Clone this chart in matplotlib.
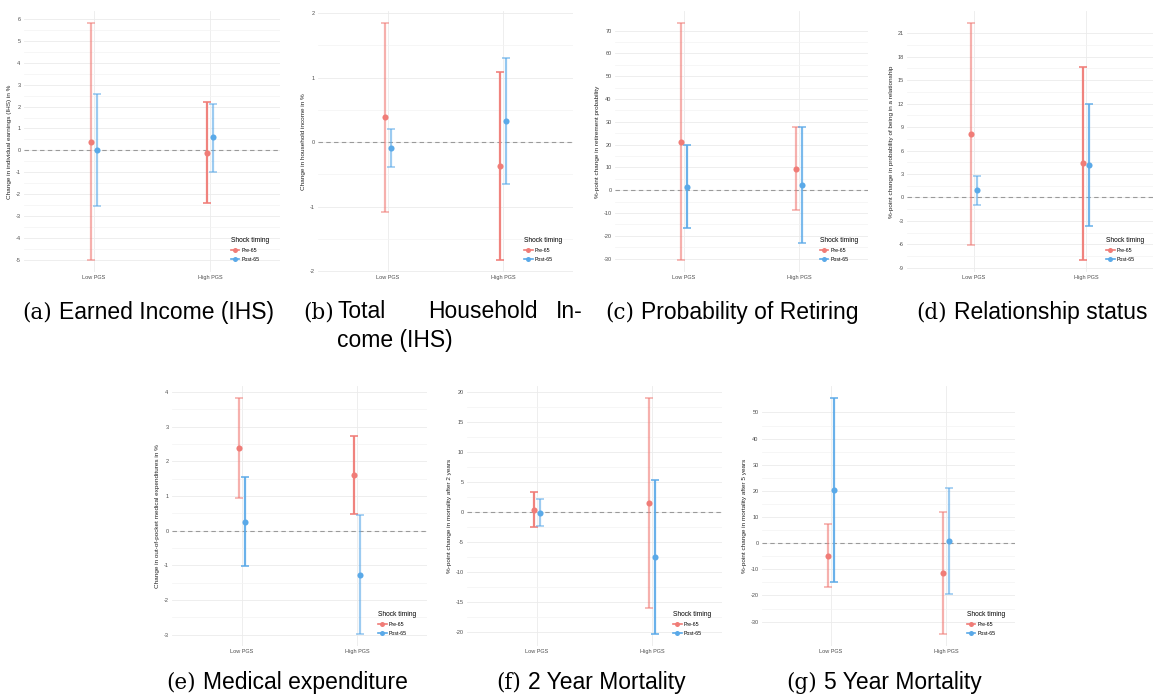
import matplotlib.pyplot as plt
from matplotlib.lines import Line2D
import numpy as np

W, H = 1154, 698

categories = ["Low PGS", "High PGS"]
groups = ["Pre-65", "Post-65"]
colors = ["#F07C77", "#5AA9E8"]

# rows: Pre-65 / Post-65, columns: Low PGS / High PGS
earn_est = [[0.40, -0.12], [0.00, 0.59]]
earn_lo = [[-5.02, -2.42], [-2.56, -0.97]]
earn_hi = [[5.83, 2.19], [2.59, 2.12]]

hh_est = [[0.39, -0.37], [-0.09, 0.33]]
hh_lo = [[-1.08, -1.83], [-0.38, -0.65]]
hh_hi = [[1.85, 1.09], [0.20, 1.30]]

ret_est = [[21.3, 9.5], [1.6, 2.3]]
ret_lo = [[-30.7, -8.8], [-16.5, -23.2]]
ret_hi = [[73.4, 27.7], [19.9, 27.7]]

rel_est = [[8.1, 4.4], [0.94, 4.1]]
rel_lo = [[-6.1, -8.0], [-0.94, -3.7]]
rel_hi = [[22.3, 16.7], [2.8, 11.9]]

med_est = [[2.39, 1.61], [0.26, -1.28]]
med_lo = [[0.95, 0.49], [-1.03, -2.99]]
med_hi = [[3.83, 2.73], [1.54, 0.44]]

mort2_est = [[0.38, 1.43], [-0.10, -7.4]]
mort2_lo = [[-2.58, -16.0], [-2.25, -20.3]]
mort2_hi = [[3.35, 18.96], [2.09, 5.33]]

mort5_est = [[-4.8, -11.4], [20.4, 0.76]]
mort5_lo = [[-16.8, -34.8], [-14.9, -19.6]]
mort5_hi = [[7.3, 11.9], [55.6, 21.1]]

# line opacity of each interval, same layout as the estimates
alphas = {
    "a": [[0.6, 0.95], [0.6, 0.6]],
    "b": [[0.6, 0.95], [0.6, 0.65]],
    "c": [[0.6, 0.6], [0.9, 0.8]],
    "d": [[0.6, 0.95], [0.6, 0.85]],
    "e": [[0.6, 0.95], [0.9, 0.6]],
    "f": [[0.95, 0.6], [0.6, 0.9]],
    "g": [[0.6, 0.6], [0.9, 0.6]],
}

panels = [
    # key, data, ticks, y label, box (x0, x1, ytop, ybot) in px
    ("a", (earn_est, earn_lo, earn_hi), np.arange(-5, 7, 1),
     "Change in individual earnings (IHS) in %", (24, 280, 11, 272)),
    ("b", (hh_est, hh_lo, hh_hi), np.arange(-2, 3, 1),
     "Change in household income in %", (318, 573, 11, 272)),
    ("c", (ret_est, ret_lo, ret_hi), np.arange(-30, 80, 10),
     "%-point change in retirement probability", (615, 868, 11, 272)),
    ("d", (rel_est, rel_lo, rel_hi), np.arange(-9, 24, 3),
     "%-point change in probability of being in a relationship", (907, 1153, 11, 272)),
    ("e", (med_est, med_lo, med_hi), np.arange(-3, 5, 1),
     "Change in out-of-pocket medical expenditures in %", (172, 427, 386, 646)),
    ("f", (mort2_est, mort2_lo, mort2_hi), np.arange(-20, 25, 5),
     "%-point change in mortality after 2 years", (467, 722, 386, 646)),
    ("g", (mort5_est, mort5_lo, mort5_hi), np.arange(-30, 60, 10),
     "%-point change in mortality after 5 years", (762, 1015, 386, 646)),
]

plt.rcParams["font.family"] = ["Liberation Sans", "DejaVu Sans"]
fig = plt.figure(figsize=(W / 100, H / 100), dpi=100)

x = np.arange(len(categories)) + 1.0
offsets = [-0.026, 0.026]

for key, (est, lo, hi), ticks, ylabel, (x0, x1, yt, yb) in panels:
    ax = fig.add_axes([x0 / W, 1 - yb / H, (x1 - x0) / W, (yb - yt) / H])
    est, lo, hi = np.array(est), np.array(lo), np.array(hi)
    for g in range(len(groups)):
        for c in range(len(categories)):
            ax.errorbar(x[c] + offsets[g], est[g, c],
                        yerr=[[est[g, c] - lo[g, c]], [hi[g, c] - est[g, c]]],
                        fmt="none", ecolor=colors[g], elinewidth=1.6,
                        capsize=3.0, capthick=1.2, alpha=alphas[key][g][c],
                        zorder=3)
            ax.plot(x[c] + offsets[g], est[g, c], "o", color=colors[g],
                    ms=4.4, mew=0, zorder=4)
    span = hi.max() - lo.min()
    ax.set_ylim(lo.min() - 0.05 * span, hi.max() + 0.05 * span)
    ax.set_xlim(0.4, 2.6)
    ax.axhline(0, color="#9a9a9a", lw=0.8, ls=(0, (4, 3)), zorder=2)

    ax.set_yticks(ticks)
    ax.set_yticks(ticks[:-1] + (ticks[1] - ticks[0]) / 2, minor=True)
    ax.set_yticklabels([str(t) for t in ticks], fontsize=4.0, color="#4d4d4d")
    ax.set_xticks(x)
    ax.set_xticklabels(categories, fontsize=4.0, color="#4d4d4d")
    ax.tick_params(length=0, pad=2.5)
    ax.tick_params(which="minor", length=0)
    ax.grid(True, which="major", color="#ebebeb", lw=0.6)
    ax.grid(True, which="minor", axis="y", color="#f3f3f3", lw=0.5)
    ax.set_axisbelow(True)
    for s in ax.spines.values():
        s.set_visible(False)
    ax.set_ylabel(ylabel, fontsize=4.6, color="#222222", labelpad=2.5)

    handles = [Line2D([0], [0], color=colors[g], marker="o", ms=3.6, lw=1.2,
                      mew=0) for g in range(len(groups))]
    leg = ax.legend(handles, groups, title="Shock timing", loc="lower left",
                    bbox_to_anchor=(0.79, 0.02), frameon=False, fontsize=3.8,
                    title_fontsize=4.8, handlelength=1.6, handletextpad=0.4,
                    labelspacing=0.8)
    leg._legend_box.align = "left"

fig.canvas.draw()


def caption(label, text, xpx, ypx):
    # serif "(x)" tag followed by the sans caption text
    t = fig.text(xpx / W, 1 - ypx / H, label, fontsize=15.5,
                 family="DejaVu Serif", va="center", ha="left")
    bb = t.get_window_extent(fig.canvas.get_renderer())
    fig.text((bb.x1 + 7) / W, 1 - ypx / H, text, fontsize=16.5,
             va="center", ha="left")


caption("(a)", "Earned Income (IHS)", 22, 312)
caption("(c)", "Probability of Retiring", 605, 312)
caption("(d)", "Relationship status", 916, 312)
caption("(e)", "Medical expenditure", 166, 683)
caption("(f)", "2 Year Mortality", 496, 683)
caption("(g)", "5 Year Mortality", 786, 683)

# (b) is justified over two lines
fig.text(303 / W, 1 - 312 / H, "(b)", fontsize=15.5, family="DejaVu Serif",
         va="center")
for word, xpx in [("Total", 337), ("Household", 428), ("In-", 556)]:
    fig.text(xpx / W, 1 - 312 / H, word, fontsize=16.5, va="center")
fig.text(337 / W, 1 - 340 / H, "come (IHS)", fontsize=16.5, va="center")

fig.savefig("out.png", dpi=100)
